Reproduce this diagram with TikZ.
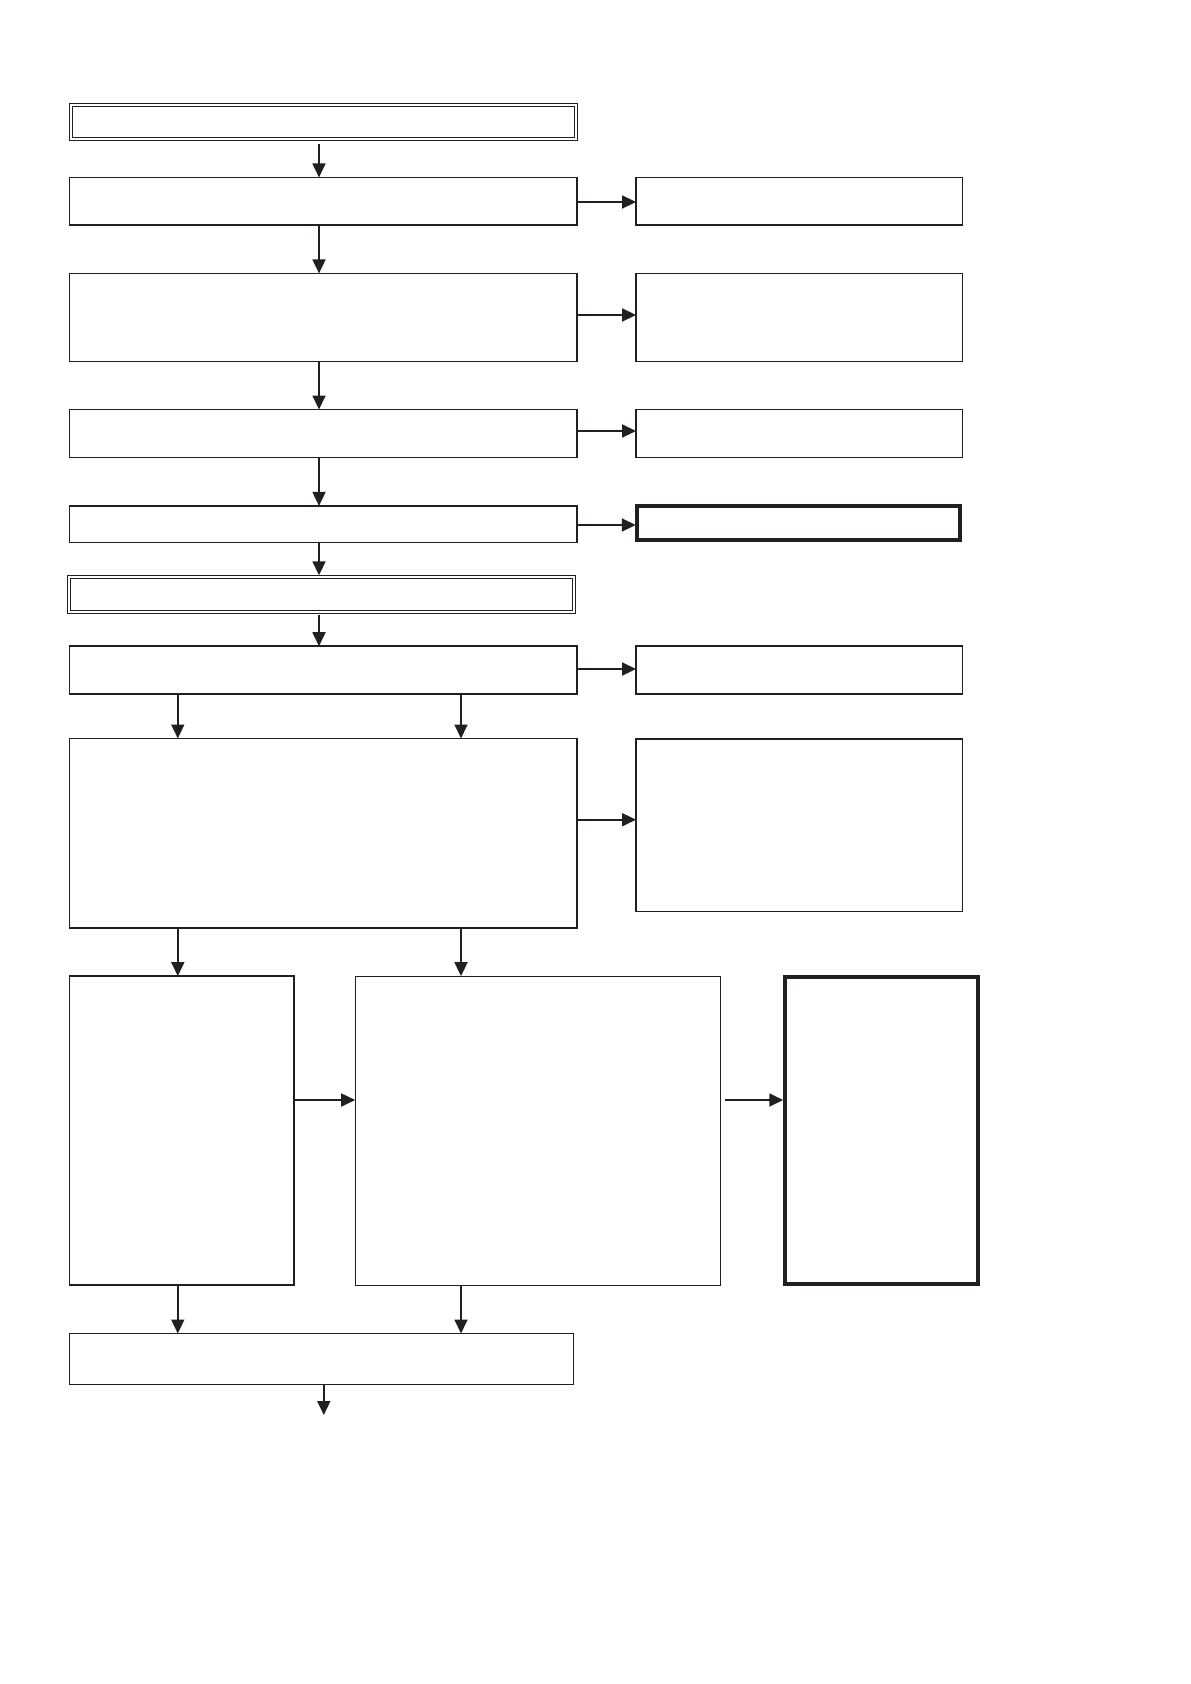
\documentclass[tikz,border=0pt]{standalone}
\usetikzlibrary{arrows.meta}
\definecolor{ink}{HTML}{231F20}
\begin{document}
\begin{tikzpicture}[x=1pt,y=-1pt,
  box/.style={draw=ink, line width=1.7pt, rectangle, inner sep=0pt, outer sep=0pt},
  thinbox/.style={box, line width=1.2pt},
  heavybox/.style={draw=ink, line width=3.8pt, rectangle, inner sep=0pt, outer sep=0pt},
  dbox/.style={draw=ink, double=white, double distance=2pt, line width=1pt, rectangle, inner sep=0pt, outer sep=0pt},
  arr/.style={draw=ink, line width=1.8pt, -{Triangle[length=14pt,width=13pt]}}]
\useasboundingbox (0,0) rectangle (1191,1684);
% main column
\node[dbox, minimum width=505pt, minimum height=34.3pt] (D1) at (323.2,121.9) {};
\node[box, minimum width=507.5pt, minimum height=47.5pt] (B2) at (323.2,201.2) {};
\node[box, minimum width=507.5pt, minimum height=88pt] (B3) at (323.2,317.4) {};
\node[box, minimum width=507.5pt, minimum height=48pt] (B4) at (323.2,433.5) {};
\node[thinbox, minimum width=507.5pt, minimum height=36.8pt] (B5) at (323.2,524.3) {};
\node[dbox, minimum width=504.9pt, minimum height=35pt] (D2) at (321.9,594.8) {};
\node[box, minimum width=507.5pt, minimum height=48pt] (B6) at (323.2,670.2) {};
\node[box, minimum width=507.5pt, minimum height=189.8pt] (B7) at (323.2,833.4) {};
\node[box, minimum width=224.3pt, minimum height=309.2pt] (B8) at (181.6,1130.7) {};
\node[thinbox, minimum width=365pt, minimum height=309.2pt] (B9) at (537.7,1130.7) {};
\node[heavybox, minimum width=192.9pt, minimum height=307.2pt] (B10) at (881.2,1130.7) {};
\node[thinbox, minimum width=504.2pt, minimum height=51pt] (B11) at (321.6,1359) {};
% right column
\node[box, minimum width=326.5pt, minimum height=47.8pt] (R2) at (799.3,201.3) {};
\node[box, minimum width=326.5pt, minimum height=88pt] (R3) at (799.3,317.4) {};
\node[box, minimum width=326.5pt, minimum height=48pt] (R4) at (799.3,433.5) {};
\node[heavybox, minimum width=323pt, minimum height=34.5pt] (R5) at (798.3,523) {};
\node[box, minimum width=326.5pt, minimum height=48pt] (R6) at (799.3,670.2) {};
\node[thinbox, minimum width=326.5pt, minimum height=172.8pt] (R7) at (799.3,825.3) {};
% helper coordinates
\coordinate (xm) at (319,0);
\coordinate (xl) at (177.8,0);
\coordinate (xr) at (461,0);
\coordinate (xo) at (323.8,0);
\coordinate (y2) at (0,202);
\coordinate (y3) at (0,315);
\coordinate (y4) at (0,431);
\coordinate (y5) at (0,525);
\coordinate (y6) at (0,669);
\coordinate (y7) at (0,819.7);
\coordinate (y8) at (0,1100);
\coordinate (out) at (323.8,1415);
% vertical connectors
\draw[arr] ([yshift=-5pt]D1.south -| xm) -- (B2.north -| xm);
\draw[arr] (B2.south -| xm) -- (B3.north -| xm);
\draw[arr] (B3.south -| xm) -- (B4.north -| xm);
\draw[arr] (B4.south -| xm) -- (B5.north -| xm);
\draw[arr] (B5.south -| xm) -- ([yshift=2pt]D2.north -| xm);
\draw[arr] ([yshift=-3pt]D2.south -| xm) -- (B6.north -| xm);
\draw[arr] (B6.south -| xl) -- (B7.north -| xl);
\draw[arr] (B6.south -| xr) -- (B7.north -| xr);
\draw[arr] (B7.south -| xl) -- (B8.north -| xl);
\draw[arr] (B7.south -| xr) -- (B9.north -| xr);
\draw[arr] (B8.south -| xl) -- (B11.north -| xl);
\draw[arr] (B9.south -| xr) -- (B11.north -| xr);
\draw[arr] (B11.south -| xo) -- (out);
% horizontal connectors
\draw[arr] (B2.east |- y2) -- (R2.west |- y2);
\draw[arr] (B3.east |- y3) -- (R3.west |- y3);
\draw[arr] (B4.east |- y4) -- (R4.west |- y4);
\draw[arr] (B5.east |- y5) -- ([xshift=-1pt]R5.west |- y5);
\draw[arr] (B6.east |- y6) -- (R6.west |- y6);
\draw[arr] (B7.east |- y7) -- (R7.west |- y7);
\draw[arr] (B8.east |- y8) -- (B9.west |- y8);
\draw[arr] ([xshift=5pt]B9.east |- y8) -- ([xshift=-1.5pt]B10.west |- y8);
\end{tikzpicture}
\end{document}
